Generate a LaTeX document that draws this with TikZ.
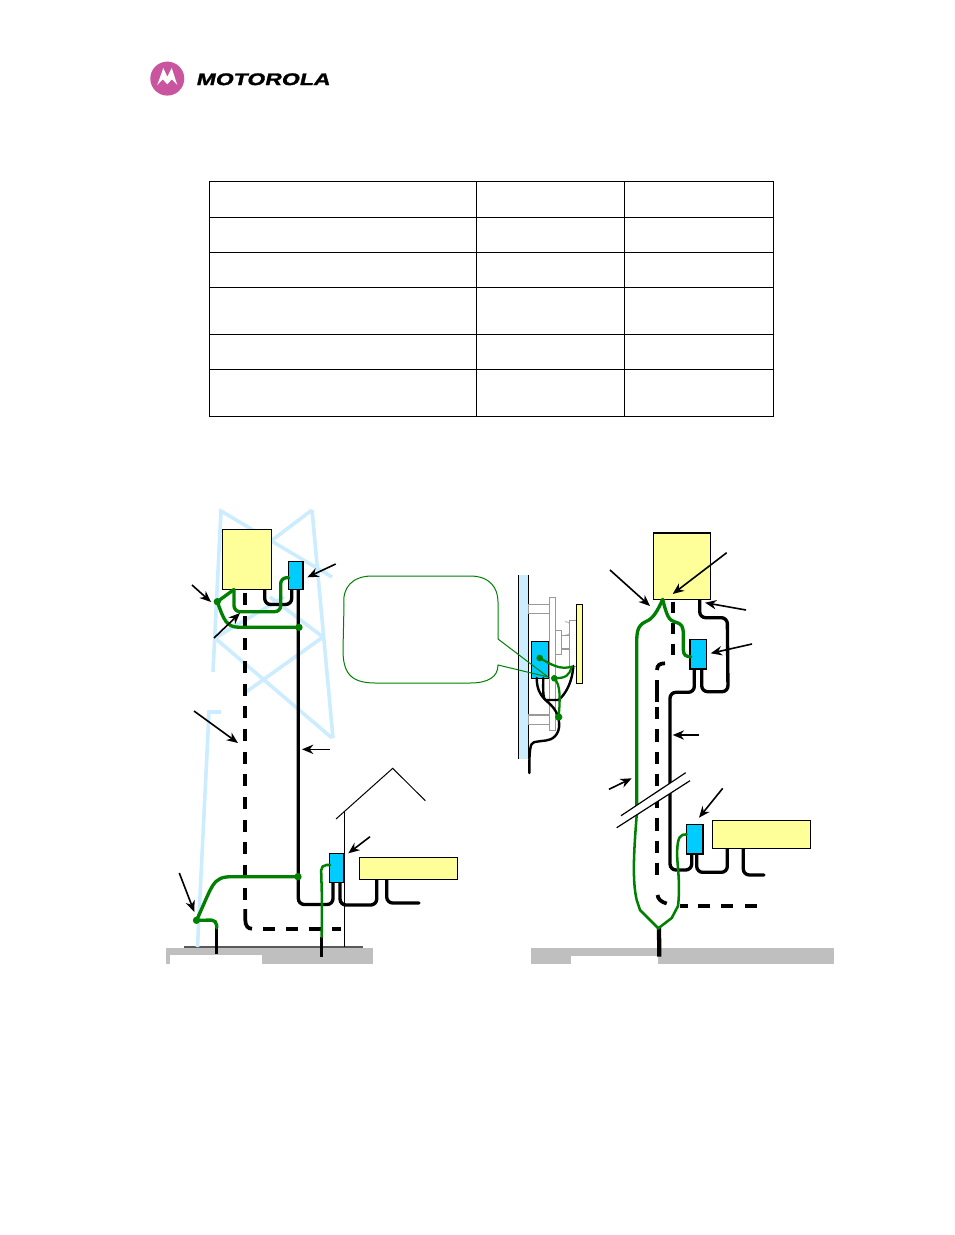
\documentclass[tikz,border=0pt]{standalone}
\usepackage{fontspec}
\usetikzlibrary{arrows.meta}
\newfontfamily\logofont[FakeSlant=0.22,FakeStretch=1.37,FakeBold=1.6]{Liberation Sans Bold}
\definecolor{motopink}{HTML}{C9559F}
\definecolor{twr}{HTML}{CCECFF}
\definecolor{cyanbox}{HTML}{00CCFF}
\definecolor{yel}{HTML}{FFFF99}
\definecolor{grn}{HTML}{008000}
\definecolor{gnd}{HTML}{BFBFBF}
\tikzset{
 x=0.75pt,y=-0.75pt,
 tower/.style={draw=twr,line width=2.7pt},
 yelbox/.style={draw=black,fill=yel,line width=0.8pt,inner sep=0pt,outer sep=0pt,anchor=north west},
 blubox/.style={draw=black,fill=cyanbox,line width=1pt,inner sep=0pt,outer sep=0pt,anchor=north west},
 wire/.style={draw=black,line width=2.5pt,rounded corners=4.5pt,line cap=round},
 dashwire/.style={draw=black,line width=2.8pt,dash pattern=on 9pt off 8pt},
 dashsolid/.style={draw=black,line width=2.8pt},
 gwire/.style={draw=grn,line width=2.5pt,line cap=round},
 gthin/.style={draw=grn,line width=1.6pt,line cap=round},
 gdot/.style={circle,fill=grn,inner sep=0pt,minimum size=5.5pt},
 ptr/.style={draw=black,line width=1.2pt,-{Stealth[length=8.5pt,width=7pt]}},
 thin1/.style={draw=black,line width=0.75pt},
 tbl/.style={draw=black,line width=0.75pt},
 greyline/.style={draw=gray!80,line width=0.9pt},
}
\newcommand{\pxbox}[6]{\node[#1,minimum width=#5*0.75pt,minimum height=#6*0.75pt] (#2) at (#3,#4) {};}
\begin{document}
\begin{tikzpicture}
\useasboundingbox (0,0) rectangle (954,1235);
% logo
\node[circle,fill=motopink,inner sep=0pt,minimum size=25.5pt] (logo) at (167.3,78.6) {};
\fill[white] (157.3,85) -- (163.3,68) -- (167.3,76.7) -- (171.7,68) -- (177.3,85) -- (171.7,79.3) -- (167.3,84.3) -- (162.7,79.3) -- cycle;
\node[font=\logofont\fontsize{12.6}{14}\selectfont,inner sep=0pt,anchor=west] (brand) at (195.5,79.3) {MOTOROLA};
% table
\draw[tbl] (209,181) rectangle (773.5,416.5);
\foreach \yy in {217,252,287,334,369} \draw[tbl] (209,\yy) -- (773.5,\yy);
\foreach \xx in {476.5,624.5} \draw[tbl] (\xx,181) -- (\xx,416.5);
% left ground
\fill[gnd] (166,948) rectangle (372.7,963.5);
\fill[white] (170,955) rectangle (261.7,964);
\draw[draw=gray!70!black,line width=0.8pt] (184,947) -- (363,947);
% tower
\draw[tower,line join=miter] (213,672) -- (221,511) -- (332,577);
\draw[tower] (312,510) -- (333,738);
\draw[tower] (312,510) -- (271,541);
\draw[tower] (215,638) -- (332,738);
\draw[tower] (215,638) -- (284,597);
\draw[tower] (323,637) -- (270,597);
\draw[tower] (323,637) -- (246,692);
\draw[tower] (221,712) -- (209,712) -- (197.5,947);
% left diagram wires
\draw[dashwire] (245.3,593) -- (245.3,900);
\draw[dashsolid] (245.3,909) -- (245.3,920) .. controls (245.3,926) and (248,928.7) .. (252,928.7);
\draw[dashwire,dash pattern=on 9.2pt off 8pt] (263,928.7) -- (341,928.7);
\draw[wire] (298.3,590) -- (298.3,904.5) -- (333,904.5) -- (333,882);
\draw[wire] (340,882) -- (340,905) -- (376.7,905) -- (376.7,879);
\draw[wire] (386.7,879) -- (386.7,903) -- (419,903);
\draw[wire] (264.7,589) -- (264.7,604.5) -- (291.7,604.5) -- (291.7,589);
% building
\draw[thin1] (344,812) -- (344,947);
\draw[thin1] (336,819) -- (392.7,768.3) -- (425.3,800.7);
% stubs
\draw[wire,line cap=butt] (216.7,928) -- (216.7,954);
\draw[wire,line cap=butt] (321.7,937) -- (321.7,957);
% boxes
\pxbox{yelbox}{topl}{222.3}{529.5}{49}{60}
\pxbox{blubox}{oduL}{288.7}{561.7}{14.3}{28}
\pxbox{blubox}{psuL}{329.7}{853.7}{14.3}{28.6}
\pxbox{yelbox}{eqL}{359.3}{857.3}{98}{22}
% green left
\node[gdot] (g1) at (217.3,601.7) {};
\node[gdot] (g2) at (299,627.3) {};
\node[gdot] (g3) at (298,876.7) {};
\node[gdot] (g4) at (196.5,920.3) {};
\draw[gwire] (234,589.5) -- (g1.center);
\draw[gwire,rounded corners=4.5pt] (234,589.5) -- (234,611.7) -- (280.7,611.7) -- (280.7,577.7) -- (288.7,577.7);
\draw[gwire] (g1.center) .. controls (224,620) and (226,627.3) .. (240,627.3) -- (g2.center);
\draw[gwire] (g3.center) -- (232,876.7) .. controls (212,876.7) and (213,885) .. (g4.center);
\draw[gwire,rounded corners=4pt] (g4.center) -- (216.7,920) -- (216.7,928);
\draw[gthin,line width=1.9pt,rounded corners=4pt] (330,865) -- (321,865) -- (322,900) -- (321.7,937);
% left arrows
\draw[ptr] (192,585) -- (211,602);
\draw[ptr] (214,638) -- (240,613);
\draw[ptr] (335.7,564) -- (307.3,577.3);
\draw[ptr] (194,711) -- (238,743);
\draw[ptr] (330,749.3) -- (302,749.3);
\draw[ptr] (179.3,873) -- (194.3,912);
\draw[ptr] (370,836.7) -- (348.3,853.3);
% pole detail
\fill[twr] (518.3,575) rectangle (528.3,759);
\draw[thin1] (518.3,575) -- (518.3,759);
\draw[thin1] (528.3,575) -- (528.3,759);
\draw[greyline,fill=white] (528.3,604.3) rectangle (549.3,613.3);
\draw[greyline,fill=white] (528.3,715) rectangle (549.3,724.3);
\draw[greyline,fill=white] (549.3,597.3) rectangle (555.3,730.7);
\draw[greyline,fill=white] (555.3,630.7) rectangle (561.3,654.3);
\draw[draw=gray!50,line width=0.8pt] (565,635.3) arc (90:-90:6.85);
\draw[greyline] (561.3,635.3) -- (569.3,635.3);
\draw[greyline] (561.3,649) -- (569.3,649);
\draw[greyline,fill=white] (569.3,620.3) rectangle (576.3,666.7);
\pxbox{yelbox}{dish}{576.3}{604.3}{6}{79}
\pxbox{blubox}{oduM}{531.7}{641.3}{17}{37}
% callout
\draw[grn,line width=0.75pt] (372,576) -- (470,576) .. controls (490,576) and (498,588) .. (498,602) -- (498,639) -- (548,677) -- (498,665) .. controls (498,677) and (488,683) .. (470,683) -- (375,683) .. controls (350,683) and (343,672) .. (343,650) -- (344,605) .. controls (342,588) and (352,576) .. (372,576) -- cycle;
% detail wires
\draw[wire,line width=1.8pt] (573.3,666) .. controls (572,688) and (560,700) .. (551.7,700) .. controls (543,700) and (543,690) .. (543.3,678);
\draw[wire,line width=1.8pt] (536.7,678) .. controls (537,700) and (550,700) .. (558.7,717) .. controls (560,735) and (552,740) .. (540,741) .. controls (530,743) and (529.3,750) .. (529.3,773);
\node[gdot,minimum size=5pt] (g5) at (539.7,658) {};
\node[gdot,minimum size=5pt] (g6) at (554.3,678.3) {};
\node[gdot,minimum size=5.5pt] (g7) at (558.7,717) {};
\draw[gwire,line width=1.7pt] (g5.center) .. controls (552,665) and (560,670) .. (571.7,666.7);
\draw[gwire,line width=1.7pt] (g6.center) .. controls (566,678) and (569,676) .. (571.7,666.7);
\draw[gwire,line width=1.7pt] (g6.center) .. controls (561,685) and (560,700) .. (g7.center);
% right ground
\fill[gnd] (531,947.5) rectangle (834,964);
\fill[white] (571,956) rectangle (658,964.5);
% right diagram wires
\draw[dashwire,dash pattern=on 8.4pt off 7.2pt] (672.7,602) -- (672.7,661);
\draw[dashsolid] (665,663.3) .. controls (660,663.3) and (657,665) .. (657,670);
\draw[dashsolid] (657,680) -- (657,702);
\draw[dashwire,dash pattern=on 9.3pt off 7.4pt] (657,707) -- (657,885);
\draw[dashsolid] (657.5,895) .. controls (658,899) and (661,902) .. (666.7,903.5);
\draw[dashsolid] (680,905.7) -- (688,905.7);
\draw[dashwire,dash pattern=on 9pt off 8.6pt] (698,905.7) -- (757,905.7);
\draw[wire] (699.7,599.3) -- (699.7,617.7) -- (727.3,617.7) -- (728,691.7) -- (701.7,691.7) -- (701.7,669);
\draw[wire] (694.3,669) -- (694.3,692.3) -- (670,692.3) -- (670,870) -- (691.7,870) -- (691.7,854);
\draw[wire] (696.7,854) -- (696.7,872.3) -- (727.3,872.3) -- (727.3,848);
\draw[wire] (743.3,848) -- (743.3,875) -- (764,875);
\draw[wire,line width=3.2pt,line cap=butt] (659,928) -- (659.3,956.7);
\pxbox{yelbox}{topr}{653.7}{533}{56.6}{66.3}
\pxbox{blubox}{oduR}{690}{639.3}{16.7}{29.7}
\pxbox{blubox}{psuR}{686.7}{824.3}{16.3}{29.7}
\pxbox{yelbox}{eqR}{712.3}{820.3}{98.4}{28}
% green right
\coordinate (apex) at (662.7,599.3);
\coordinate (fork) at (658.3,928.3);
\draw[gwire] (apex) .. controls (655,617) and (650,620) .. (645,622) .. controls (637,626) and (636.7,633) .. (636.7,645) -- (636.7,815);
\draw[gwire,line width=1.9pt] (636.7,815) .. controls (634,850) and (632,880) .. (636.7,900) -- (640,910) -- (fork) -- (671.7,918) -- (678,906) .. controls (681,880) and (676,860) .. (677.3,848) .. controls (678,838) and (680,834) .. (686.7,834.3);
\draw[gwire] (apex) .. controls (667,617) and (669,620) .. (675,622) .. controls (682,624) and (683.3,626) .. (683.3,635) -- (683.3,650) .. controls (683.5,655) and (686,656.7) .. (690.7,656.7);
% break
\fill[white] (621,815.7) -- (685.7,772.7) -- (690,780.7) -- (616.7,827.7) -- cycle;
\draw[thin1,line width=0.9pt] (621,815.7) -- (685.7,772.7);
\draw[thin1,line width=0.9pt] (616.7,827.7) -- (690,780.7);
% right arrows
\draw[ptr] (610,570) -- (650,606);
\draw[ptr] (726.7,552.7) -- (672.7,594);
\draw[ptr] (746,610) -- (705,602.7);
\draw[ptr] (752,644) -- (710.7,653.3);
\draw[ptr] (699.3,735) -- (672.7,735);
\draw[ptr] (609,789.3) -- (631.7,778.3);
\draw[ptr] (722.7,788.3) -- (699,817.7);
\end{tikzpicture}
\end{document}
